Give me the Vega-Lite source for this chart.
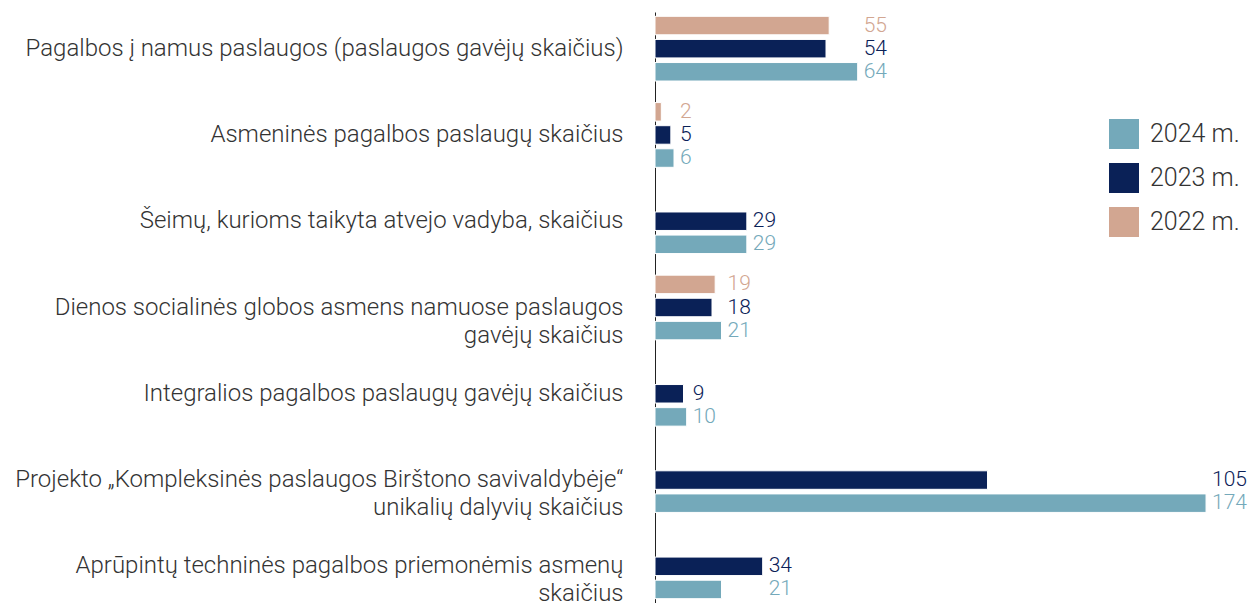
{
  "$schema": "https://vega.github.io/schema/vega-lite/v6.json",
  "autosize": {"type": "none"},
  "width": 590,
  "height": 591,
  "padding": {"left": 655, "top": 12, "right": 4, "bottom": 0},
  "background": "white",
  "config": {"view": {"stroke": null}, "font": "Roboto"},
  "data": {
    "values": [
      {"cat": "Pagalbos į namus paslaugos (paslaugos gavėjų skaičius)", "year": "2022 m.", "value": 55},
      {"cat": "Pagalbos į namus paslaugos (paslaugos gavėjų skaičius)", "year": "2023 m.", "value": 54},
      {"cat": "Pagalbos į namus paslaugos (paslaugos gavėjų skaičius)", "year": "2024 m.", "value": 64},
      {"cat": "Asmeninės pagalbos paslaugų skaičius", "year": "2022 m.", "value": 2},
      {"cat": "Asmeninės pagalbos paslaugų skaičius", "year": "2023 m.", "value": 5},
      {"cat": "Asmeninės pagalbos paslaugų skaičius", "year": "2024 m.", "value": 6},
      {"cat": "Šeimų, kurioms taikyta atvejo vadyba, skaičius", "year": "2023 m.", "value": 29},
      {"cat": "Šeimų, kurioms taikyta atvejo vadyba, skaičius", "year": "2024 m.", "value": 29},
      {"cat": "Dienos socialinės globos asmens namuose paslaugos|gavėjų skaičius", "year": "2022 m.", "value": 19},
      {"cat": "Dienos socialinės globos asmens namuose paslaugos|gavėjų skaičius", "year": "2023 m.", "value": 18},
      {"cat": "Dienos socialinės globos asmens namuose paslaugos|gavėjų skaičius", "year": "2024 m.", "value": 21},
      {"cat": "Integralios pagalbos paslaugų gavėjų skaičius", "year": "2023 m.", "value": 9},
      {"cat": "Integralios pagalbos paslaugų gavėjų skaičius", "year": "2024 m.", "value": 10},
      {"cat": "Projekto „Kompleksinės paslaugos Birštono savivaldybėje“|unikalių dalyvių skaičius", "year": "2023 m.", "value": 105},
      {"cat": "Projekto „Kompleksinės paslaugos Birštono savivaldybėje“|unikalių dalyvių skaičius", "year": "2024 m.", "value": 174},
      {"cat": "Aprūpintų techninės pagalbos priemonėmis asmenų|skaičius", "year": "2023 m.", "value": 34},
      {"cat": "Aprūpintų techninės pagalbos priemonėmis asmenų|skaičius", "year": "2024 m.", "value": 21}
    ]
  },
  "transform": [
    {"joinaggregate": [{"op": "max", "field": "value", "as": "gmax"}], "groupby": ["cat"]}
  ],
  "encoding": {
    "y": {
      "field": "cat",
      "type": "nominal",
      "sort": null,
      "title": null,
      "scale": {"paddingInner": 0.25, "paddingOuter": 0.05},
      "axis": {
        "labelExpr": "split(datum.label, '|')",
        "labelFontSize": 24,
        "labelFontWeight": 300,
        "labelColor": "#333333",
        "labelLimit": 0,
        "labelPadding": 32,
        "labelLineHeight": 28,
        "ticks": false,
        "domainColor": "#222222",
        "domainWidth": 1
      }
    },
    "yOffset": {
      "field": "year",
      "type": "nominal",
      "scale": {"domain": ["2022 m.", "2023 m.", "2024 m."], "paddingInner": 0.2}
    },
    "color": {
      "field": "year",
      "type": "nominal",
      "title": null,
      "scale": {
        "domain": ["2024 m.", "2023 m.", "2022 m."],
        "range": ["#74A9BA", "#0A2157", "#D2A691"]
      },
      "legend": {
        "orient": "none",
        "legendX": 454,
        "legendY": 107,
        "symbolType": "square",
        "symbolSize": 900,
        "symbolStrokeWidth": 0,
        "labelFontSize": 25,
        "labelFontWeight": 300,
        "labelColor": "#333333",
        "labelOffset": 11,
        "rowPadding": 14
      }
    }
  },
  "layer": [
    {
      "mark": {"type": "bar", "stroke": "white", "strokeWidth": 1},
      "encoding": {
        "x": {"field": "value", "type": "quantitative", "scale": {"domain": [0, 186.3], "nice": false}, "axis": null}
      }
    },
    {
      "mark": {"type": "text", "align": "left", "baseline": "middle", "dx": 6, "fontSize": 21, "fontWeight": 300},
      "encoding": {
        "x": {"field": "gmax", "type": "quantitative"},
        "text": {"field": "value", "type": "quantitative"}
      }
    }
  ]
}
